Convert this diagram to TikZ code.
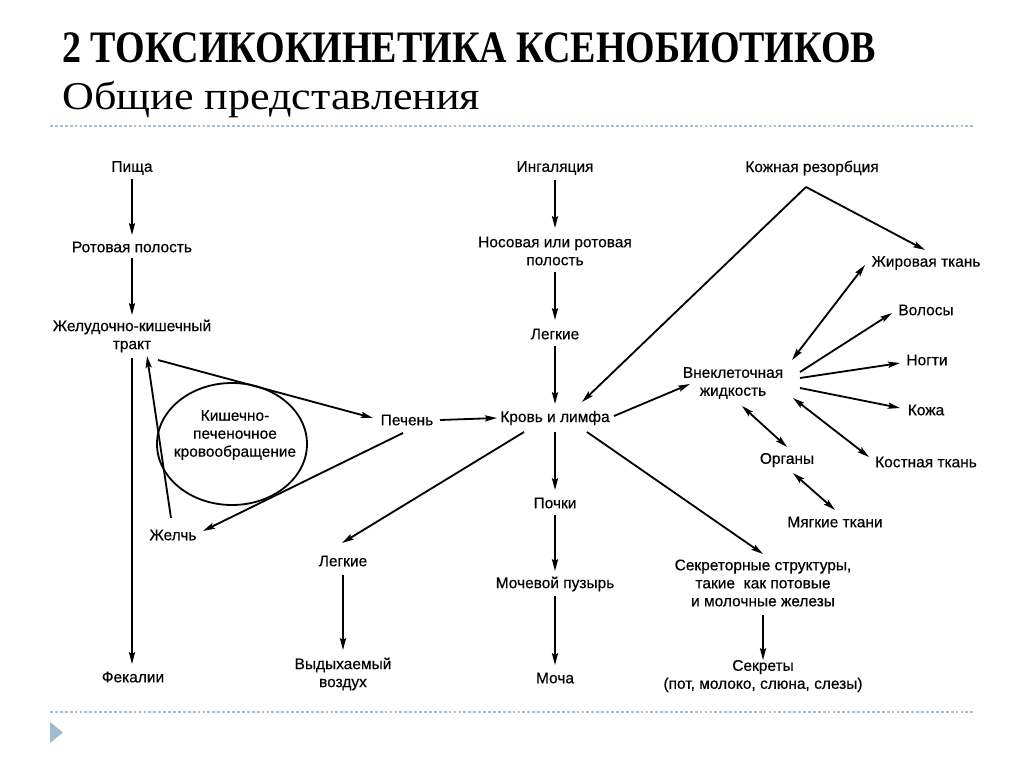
\documentclass[tikz,border=0pt]{standalone}
\usepackage{fontspec}
\setmainfont{Liberation Sans}
\newfontfamily\diagfont[FakeBold=0.4]{Liberation Sans}
\newfontfamily\titlefont[FakeStretch=0.845]{Liberation Serif}
\newfontfamily\subfont[FakeStretch=1.12]{Liberation Serif}
\usetikzlibrary{arrows.meta,calc,shapes.geometric}
\definecolor{rulecol}{HTML}{A9BFD0}
\definecolor{bulletcol}{HTML}{A3BACE}
\begin{document}
\begin{tikzpicture}[x=0.025cm,y=-0.025cm,
  lbl/.style={font=\diagfont\fontsize{11}{12.8}\selectfont, align=center, inner sep=1pt},
  arr/.style={line width=1.3pt, -{Stealth[length=8.5pt,width=4.4pt,inset=1.5pt]}},
  darr/.style={line width=1.3pt, {Stealth[length=8.5pt,width=4.4pt,inset=1.5pt]}-{Stealth[length=8.5pt,width=4.4pt,inset=1.5pt]}},
  rulel/.style={rulecol, line width=1pt, dash pattern=on 2pt off 1.5pt}]
\useasboundingbox[fill=white] (0,0) rectangle (1024,767);
% header
\node[anchor=base west, inner sep=0pt, font=\titlefont\bfseries\fontsize{32}{38}\selectfont] (title) at (62,63) {2 ТОКСИКОКИНЕТИКА КСЕНОБИОТИКОВ};
\node[anchor=base west, inner sep=0pt, font=\subfont\fontsize{28}{34}\selectfont] (subtitle) at (62,110) {Общие представления};
\draw[rulel] (50,126) -- (975,126);
\draw[rulel] (50,712) -- (975,712);
\fill[bulletcol] (50,722) -- (63,732.5) -- (50,743) -- cycle;
% nodes
\node[lbl] (pisha) at (132,168) {Пища};
\node[lbl] (rot) at (132,247) {Ротовая полость};
\node[lbl] (gkt) at (132,336) {Желудочно-кишечный\\тракт};
\node[draw, line width=1.3pt, ellipse, minimum width=150*0.025cm, minimum height=122*0.025cm, inner sep=0pt] (kpk) at (232,444) {};
\node[lbl] (kpkt) at (235,435) {Кишечно-\\печеночное\\кровообращение};
\node[lbl] (pech) at (407,420) {Печень};
\node[lbl] (krov) at (555,418) {Кровь и лимфа};
\node[lbl] (zhelch) at (173,535) {Желчь};
\node[lbl] (fek) at (133,677) {Фекалии};
\node[lbl] (leg2) at (343,561) {Легкие};
\node[lbl] (vyd) at (343,674) {Выдыхаемый\\воздух};
\node[lbl] (ing) at (555,168) {Ингаляция};
\node[lbl] (nos) at (555,251) {Носовая или ротовая\\полость};
\node[lbl] (leg1) at (555,334) {Легкие};
\node[lbl] (pochki) at (555,503) {Почки};
\node[lbl] (moch) at (555,584) {Мочевой пузырь};
\node[lbl] (mocha) at (555,678) {Моча};
\node[lbl] (kozh) at (812,168) {Кожная резорбция};
\node[lbl] (zhir) at (926,263) {Жировая ткань};
\node[lbl] (vol) at (926,310) {Волосы};
\node[lbl] (nog) at (927,360) {Ногти};
\node[lbl] (kozha) at (926,410) {Кожа};
\node[lbl] (kost) at (926,462) {Костная ткань};
\node[lbl] (vn) at (733,383) {Внеклеточная\\жидкость};
\node[lbl] (org) at (787,460) {Органы};
\node[lbl] (myag) at (835,522) {Мягкие ткани};
\node[lbl] (sekr) at (763,583) {Секреторные структуры,\\такие\ \ как потовые\\и молочные железы};
\node[lbl] (sekre) at (763,676) {Секреты\\(пот, молоко, слюна, слезы)};
\coordinate (apex) at (806,187);
% connectors
\draw[arr] ($(pisha)+(0,11)$) -- ($(rot)+(0,-12)$);
\draw[arr] ($(rot)+(0,11)$) -- ($(gkt)+(0,-21)$);
\draw[arr] ($(gkt)+(0,22)$) -- ($(fek)+(-1,-13)$);
\draw[arr] ($(zhelch)+(-2,-17)$) -- ($(gkt)+(15,20)$);
\draw[arr] ($(gkt)+(26,24)$) -- ($(pech)+(-34,-2)$);
\draw[arr] ($(pech)+(-4,13)$) -- ($(zhelch)+(30,-4)$);
\draw[arr] ($(pech)+(33,0)$) -- ($(krov)+(-58,0)$);
\draw[arr] ($(ing)+(0,12)$) -- ($(nos)+(0,-23)$);
\draw[arr] ($(nos)+(0,21)$) -- ($(leg1)+(0,-14)$);
\draw[arr] ($(leg1)+(0,12)$) -- ($(krov)+(0,-14)$);
\draw[arr] ($(krov)+(0,14)$) -- ($(pochki)+(0,-13)$);
\draw[arr] ($(pochki)+(0,12)$) -- ($(moch)+(0,-13)$);
\draw[arr] ($(moch)+(0,12)$) -- ($(mocha)+(0,-13)$);
\draw[arr] ($(krov)+(-31,14)$) -- ($(leg2)+(-1,-18)$);
\draw[arr] ($(leg2)+(0,14)$) -- ($(vyd)+(0,-24)$);
\draw[arr] ($(krov)+(59,-2)$) -- ($(vn)+(-43,1)$);
\draw[arr] (apex) -- ($(krov)+(27,-16)$);
\draw[arr] (apex) -- ($(zhir)+(-1,-13)$);
\draw[darr] ($(vn)+(59,-23)$) -- ($(zhir)+(-61,2)$);
\draw[arr] ($(vn)+(67,-11)$) -- ($(vol)+(-34,3)$);
\draw[arr] ($(vn)+(67,-5)$) -- ($(nog)+(-27,3)$);
\draw[arr] ($(vn)+(67,5)$) -- ($(kozha)+(-26,-2)$);
\draw[darr] ($(vn)+(60,15)$) -- ($(kost)+(-57,-5)$);
\draw[darr] ($(vn)+(9,23)$) -- ($(org)+(0,-13)$);
\draw[darr] ($(org)+(6,13)$) -- ($(myag)+(0,-12)$);
\draw[arr] ($(krov)+(32,14)$) -- ($(sekr)+(0,-29)$);
\draw[arr] ($(sekr)+(0,32)$) -- ($(sekre)+(0,-16)$);
\end{tikzpicture}
\end{document}
